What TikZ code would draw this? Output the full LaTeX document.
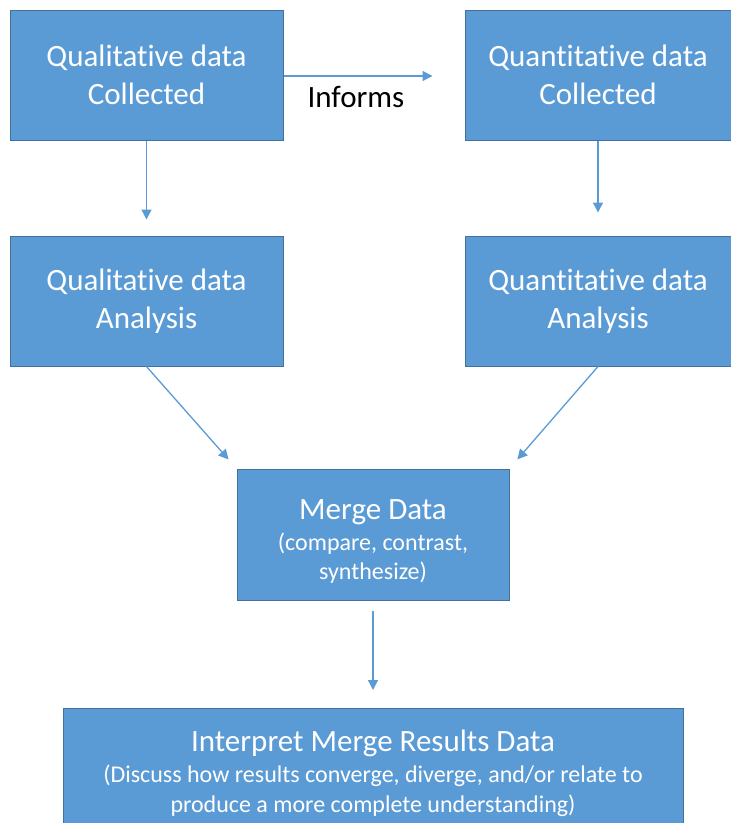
\documentclass[tikz,border=0pt]{standalone}
\usepackage{fontspec}
\setmainfont{Carlito}[Ligatures=NoCommon]
\usetikzlibrary{arrows.meta,positioning}
\definecolor{boxfill}{HTML}{5B9BD5}
\definecolor{boxline}{HTML}{41719C}
\definecolor{arrowc}{HTML}{5B9BD5}

\begin{document}
\begin{tikzpicture}[
  x=1pt, y=-1pt,
  box/.style={draw=boxline, fill=boxfill, line width=1pt, text=white, align=center, inner sep=0pt},
  bigbox/.style={box, minimum width=273pt, minimum height=130pt, font=\fontsize{31}{38}\selectfont},
  subbox/.style={box, font=\fontsize{24}{30}\selectfont},
  arr/.style={-{Triangle[length=10pt,width=10pt]}, line width=1.3pt, color=arrowc},
]
\useasboundingbox (0,0) rectangle (731,823);

\node[bigbox] (qualcol) at (146.5,75) {Qualitative data\\Collected};
\node[bigbox, minimum width=266pt] (quancol) at (598,75) {Quantitative data\\Collected};
\node[bigbox] (qualan) at (146.5,301) {Qualitative data\\Analysis};
\node[bigbox, minimum width=266pt] (quanan) at (598,301) {Quantitative data\\Analysis};

\node[subbox, minimum width=272pt, minimum height=131pt] (merge) at (373,534.5)
  {{\fontsize{31}{38}\selectfont\rule{0pt}{33pt}Merge Data}\\[1pt]
   (compare, contrast,\\[-1pt]synthesize)};

\node[subbox, minimum width=620pt, minimum height=130pt, anchor=north] (interp) at (373,708)
  {{\fontsize{31}{38}\selectfont Interpret Merge Results Data}\\[1pt]
   (Discuss how results converge, diverge, and/or relate to\\
   produce a more complete understanding)};

% connectors
\draw[arr, shorten >=32pt] (qualcol.east |- 0,76) -- (quancol.west |- 0,76)
  node[pos=0.4, below=6pt, text=black, font=\fontsize{31}{36}\selectfont] (informs) {Informs};
\draw[arr, shorten >=16pt] (qualcol.south) -- (qualan.north);
\draw[arr, shorten >=23pt] (quancol.south) -- (quanan.north);
\draw[arr, shorten >=12pt] (qualan.south) -- (merge.north west);
\draw[arr, shorten >=12pt] (quanan.south) -- (merge.north east);
\draw[arr, shorten <=10pt, shorten >=18pt] (merge.south) -- (interp.north);

\end{tikzpicture}
\end{document}
